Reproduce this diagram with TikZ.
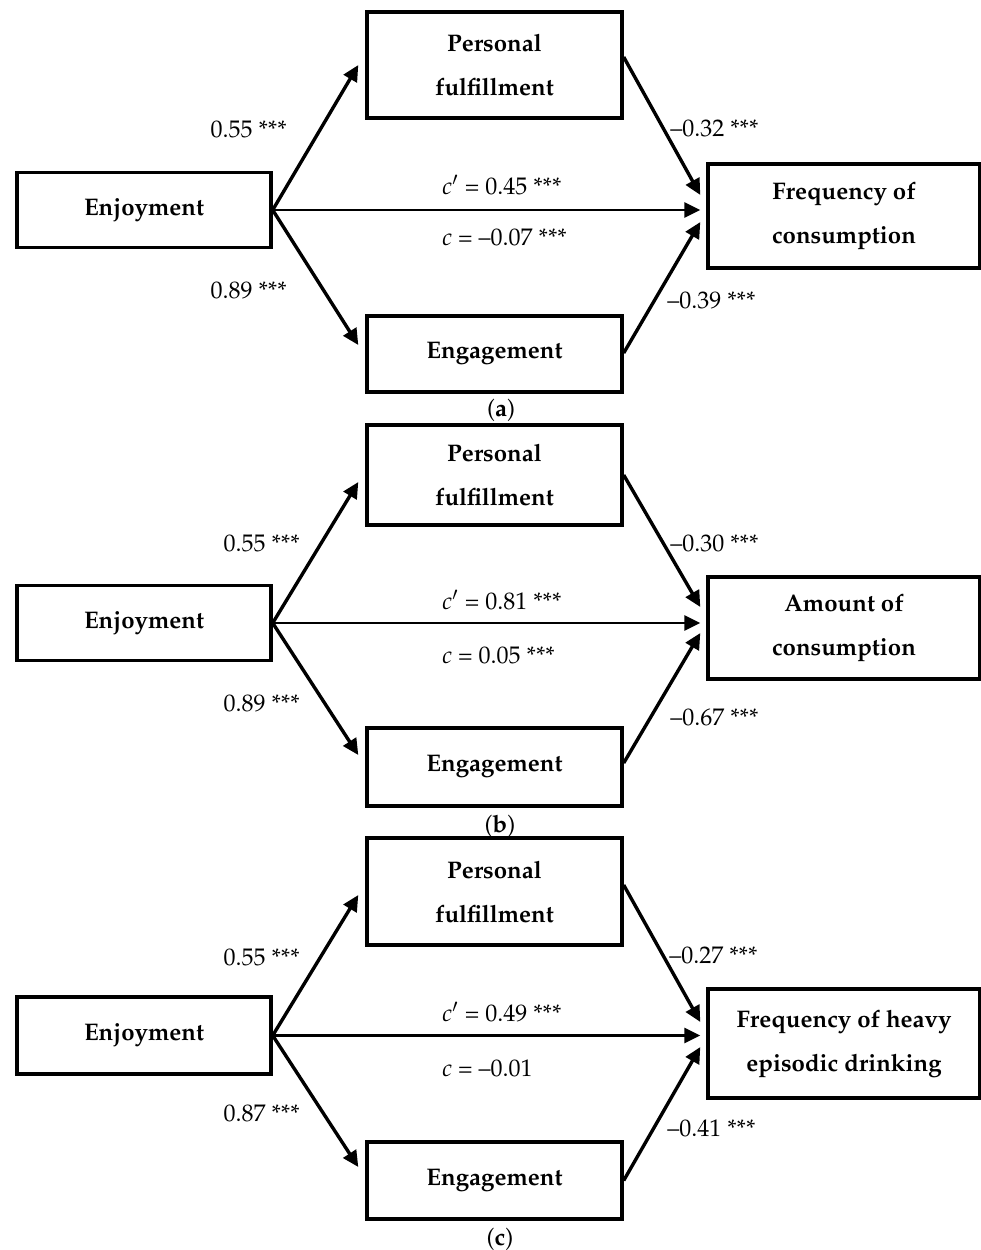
\documentclass[tikz,border=0pt]{standalone}
\usepackage[T1]{fontenc}
\usepackage{mathpazo}
\usetikzlibrary{arrows.meta}
\tikzset{
  box/.style={draw, line width=1.7pt, font=\bfseries\fontsize{12}{22}\selectfont, align=center, inner sep=0pt},
  lab/.style={inner sep=0pt, font=\fontsize{12}{14}\selectfont},
  arr/.style={line width=1.7pt, -{Triangle[length=8pt,width=7.5pt]}},
  harr/.style={line width=1.4pt, -{Triangle[length=8pt,width=7.5pt]}}
}
\begin{document}
\begin{tikzpicture}[x=0.5pt,y=-0.5pt]
\useasboundingbox (0,0) rectangle (981,1250);
% ---------------- panel (a)
\node[box, minimum width=127pt, minimum height=37.5pt] (enjA) at (144,210) {Enjoyment};
\node[box, minimum width=127.5pt, minimum height=53pt] (pfA) at (494.5,65) {Personal\\fulfillment};
\node[box, minimum width=127.5pt, minimum height=38pt] (engA) at (494.5,354) {Engagement};
\node[box, minimum width=136pt, minimum height=52pt] (outA) at (844,216) {Frequency of\\consumption};
\coordinate (hA) at (enjA.east -| outA.west);
\draw[arr] (enjA.east) -- ([xshift=-3.5pt]pfA.west);
\draw[arr] (enjA.east) -- ([xshift=-3.5pt,yshift=4.5pt]engA.west);
\draw[harr] (enjA.east) -- ([xshift=-3pt]hA);
\draw[arr] ([yshift=4pt]pfA.east) -- ([xshift=-3pt,yshift=10.5pt]outA.west);
\draw[arr] ([yshift=0.5pt]engA.east) -- ([xshift=-3pt,yshift=-3pt]outA.west);
\node[lab, anchor=east] (l1A) at (287,129) {0.55 ***};
\node[lab, anchor=east] (l2A) at (287,290) {0.89 ***};
\node[lab, anchor=west] (r1A) at (670,128) {--0.32 ***};
\node[lab, anchor=west] (r2A) at (667,300) {--0.39 ***};
\node[lab, anchor=west] (c1A) at (442,185) {\textit{c}$'$ = 0.45 ***};
\node[lab, anchor=west] (c2A) at (442,237) {\textit{c} = --0.07 ***};
\node[lab] (capA) at (501,410) {(\textbf{a})};
% ---------------- panel (b)
\node[box, minimum width=127pt, minimum height=37.5pt] (enjB) at (144,623) {Enjoyment};
\node[box, minimum width=127.5pt, minimum height=50pt] (pfB) at (494.5,475) {Personal\\fulfillment};
\node[box, minimum width=127.5pt, minimum height=39pt] (engB) at (494.5,767) {Engagement};
\node[box, minimum width=136pt, minimum height=51pt] (outB) at (844,628) {Amount of\\consumption};
\coordinate (hB) at (enjB.east -| outB.west);
\draw[arr] (enjB.east) -- ([xshift=-3.5pt,yshift=-3.5pt]pfB.west);
\draw[arr] (enjB.east) -- ([xshift=-3.5pt,yshift=6pt]engB.west);
\draw[harr] (enjB.east) -- ([xshift=-3pt]hB);
\draw[arr] (pfB.east) -- ([xshift=-3pt,yshift=10.5pt]outB.west);
\draw[arr] ([yshift=2pt]engB.east) -- ([xshift=-3pt,yshift=-2.5pt]outB.west);
\node[lab, anchor=east] (l1B) at (300,543) {0.55 ***};
\node[lab, anchor=east] (l2B) at (300,703) {0.89 ***};
\node[lab, anchor=west] (r1B) at (670,543) {--0.30 ***};
\node[lab, anchor=west] (r2B) at (670,717) {--0.67 ***};
\node[lab, anchor=west] (c1B) at (442,600) {\textit{c}$'$ = 0.81 ***};
\node[lab, anchor=west] (c2B) at (442,655) {\textit{c} = 0.05 ***};
\node[lab] (capB) at (500,826) {(\textbf{b})};
% ---------------- panel (c)
\node[box, minimum width=127pt, minimum height=38.5pt] (enjC) at (144,1035.5) {Enjoyment};
\node[box, minimum width=127.5pt, minimum height=53.5pt] (pfC) at (494.5,891.5) {Personal\\fulfillment};
\node[box, minimum width=127.5pt, minimum height=38.5pt] (engC) at (494.5,1180.5) {Engagement};
\node[box, minimum width=136pt, minimum height=54.5pt] (outC) at (844,1043.5) {Frequency of heavy\\episodic drinking};
\coordinate (hC) at (enjC.east -| outC.west);
\draw[arr] (enjC.east) -- ([xshift=-3.5pt,yshift=-1.75pt]pfC.west);
\draw[arr] (enjC.east) -- ([xshift=-3.5pt,yshift=6.75pt]engC.west);
\draw[harr] (enjC.east) -- ([xshift=-3pt]hC);
\draw[arr] ([yshift=3.25pt]pfC.east) -- ([xshift=-3pt,yshift=10.75pt]outC.west);
\draw[arr] (engC.east) -- ([xshift=-3pt,yshift=-1.75pt]outC.west);
\node[lab, anchor=east] (l1C) at (300,957) {0.55 ***};
\node[lab, anchor=east] (l2C) at (300,1113) {0.87 ***};
\node[lab, anchor=west] (r1C) at (669,955) {--0.27 ***};
\node[lab, anchor=west] (r2C) at (667,1128) {--0.41 ***};
\node[lab, anchor=west] (c1C) at (442,1012) {\textit{c}$'$ = 0.49 ***};
\node[lab, anchor=west] (c2C) at (442,1068) {\textit{c} = --0.01};
\node[lab] (capC) at (500,1239) {(\textbf{c})};
\end{tikzpicture}
\end{document}
